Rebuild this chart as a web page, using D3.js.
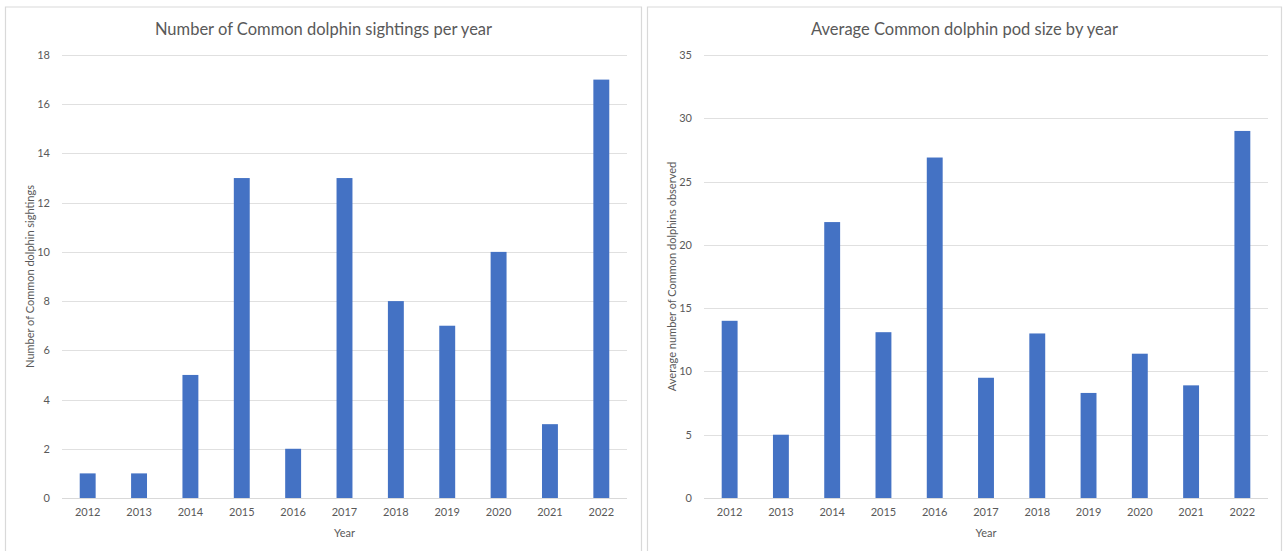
<!DOCTYPE html>
<html>
<head>
<meta charset="utf-8">
<script src="https://cdn.jsdelivr.net/npm/d3@7"></script>
<style>
  body { margin: 0; background: #fff; }
  svg text { font-family: Lato, "Open Sans", sans-serif; }
</style>
</head>
<body>
<svg id="main-svg"></svg>
<script>
'use strict'

var years = ["2012", "2013", "2014", "2015", "2016", "2017", "2018", "2019", "2020", "2021", "2022"];
var sightings = [1, 1, 5, 13, 2, 13, 8, 7, 10, 3, 17];
var podSize = [14, 5, 21.8, 13.1, 26.9, 9.5, 13, 8.3, 11.4, 8.9, 29];
var sightingTicks = [0, 2, 4, 6, 8, 10, 12, 14, 16, 18];
var podTicks = [0, 5, 10, 15, 20, 25, 30, 35];

var WIDTH = 1283,
	HEIGHT = 551;

var barColor = "#4472c4",
	gridColor = "#e0e0e0",
	textColor = "#595959";

var svg = d3.select("#main-svg")
	.attr("width", WIDTH)
	.attr("height", HEIGHT);

function drawChart(opts) {
	var g = svg.append("g");

	// panel border (no bottom edge visible)
	g.append("path")
		.attr("d", "M" + opts.panel[0] + "," + HEIGHT + "V" + 7 + "H" + opts.panel[1] + "V" + HEIGHT)
		.attr("fill", "none")
		.attr("stroke", "#d9d9d9")
		.attr("stroke-width", 1.2);

	var x = d3.scaleBand()
		.domain(years)
		.range([opts.left, opts.right])
		.paddingInner(0.69)
		.paddingOuter(0.345);

	var y = d3.scaleLinear()
		.domain([0, opts.max])
		.range([498, 55]);

	// gridlines
	g.append("g")
		.selectAll("line")
		.data(opts.ticks)
		.join("line")
		.attr("x1", opts.left)
		.attr("x2", opts.right)
		.attr("y1", function (d) { return Math.round(y(d)) + 0.5; })
		.attr("y2", function (d) { return Math.round(y(d)) + 0.5; })
		.attr("stroke", function (d) { return d == 0 ? "#d9d9d9" : gridColor; })
		.attr("stroke-width", 1);

	// y tick labels
	var yAxis = d3.axisLeft(y).tickValues(opts.ticks).tickSize(0).tickPadding(0);
	var ya = g.append("g")
		.attr("transform", "translate(" + (opts.left - 12) + ",0)")
		.call(yAxis);
	ya.select(".domain").remove();
	ya.selectAll("text")
		.attr("fill", textColor)
		.style("font-size", "11px");

	// bars
	g.append("g")
		.selectAll("rect")
		.data(opts.values)
		.join("rect")
		.attr("x", function (d, i) { return x(years[i]); })
		.attr("width", x.bandwidth())
		.attr("y", function (d) { return y(d); })
		.attr("height", function (d) { return y(0) - y(d); })
		.attr("fill", barColor);

	// x tick labels
	var xAxis = d3.axisBottom(x).tickSize(0).tickPadding(0);
	var xa = g.append("g")
		.attr("transform", "translate(0,508)")
		.call(xAxis);
	xa.select(".domain").remove();
	xa.selectAll("text")
		.attr("fill", textColor)
		.style("font-size", "11px");

	// title
	g.append("text")
		.attr("x", (opts.panel[0] + opts.panel[1]) / 2)
		.attr("y", 35)
		.attr("text-anchor", "middle")
		.attr("fill", textColor)
		.style("font-size", "16.5px")
		.text(opts.title);

	// axis titles
	g.append("text")
		.attr("x", (opts.left + opts.right) / 2)
		.attr("y", 537)
		.attr("text-anchor", "middle")
		.attr("fill", textColor)
		.style("font-size", "11px")
		.text("Year");

	g.append("text")
		.attr("transform", "translate(" + opts.yTitleX + "," + ((y(0) + y(opts.max)) / 2) + ") rotate(-90)")
		.attr("text-anchor", "middle")
		.attr("fill", textColor)
		.style("font-size", "11px")
		.text(opts.yTitle);
}

drawChart({
	panel: [5.5, 641.5],
	left: 62,
	right: 627,
	max: 18,
	ticks: sightingTicks,
	values: sightings,
	title: "Number of Common dolphin sightings per year",
	yTitle: "Number of Common dolphin sightings",
	yTitleX: 34
});

drawChart({
	panel: [647.5, 1281.5],
	left: 704,
	right: 1268,
	max: 35,
	ticks: podTicks,
	values: podSize,
	title: "Average Common dolphin pod size by year",
	yTitle: "Average number of Common dolphins observed",
	yTitleX: 676
});
</script>
</body>
</html>
